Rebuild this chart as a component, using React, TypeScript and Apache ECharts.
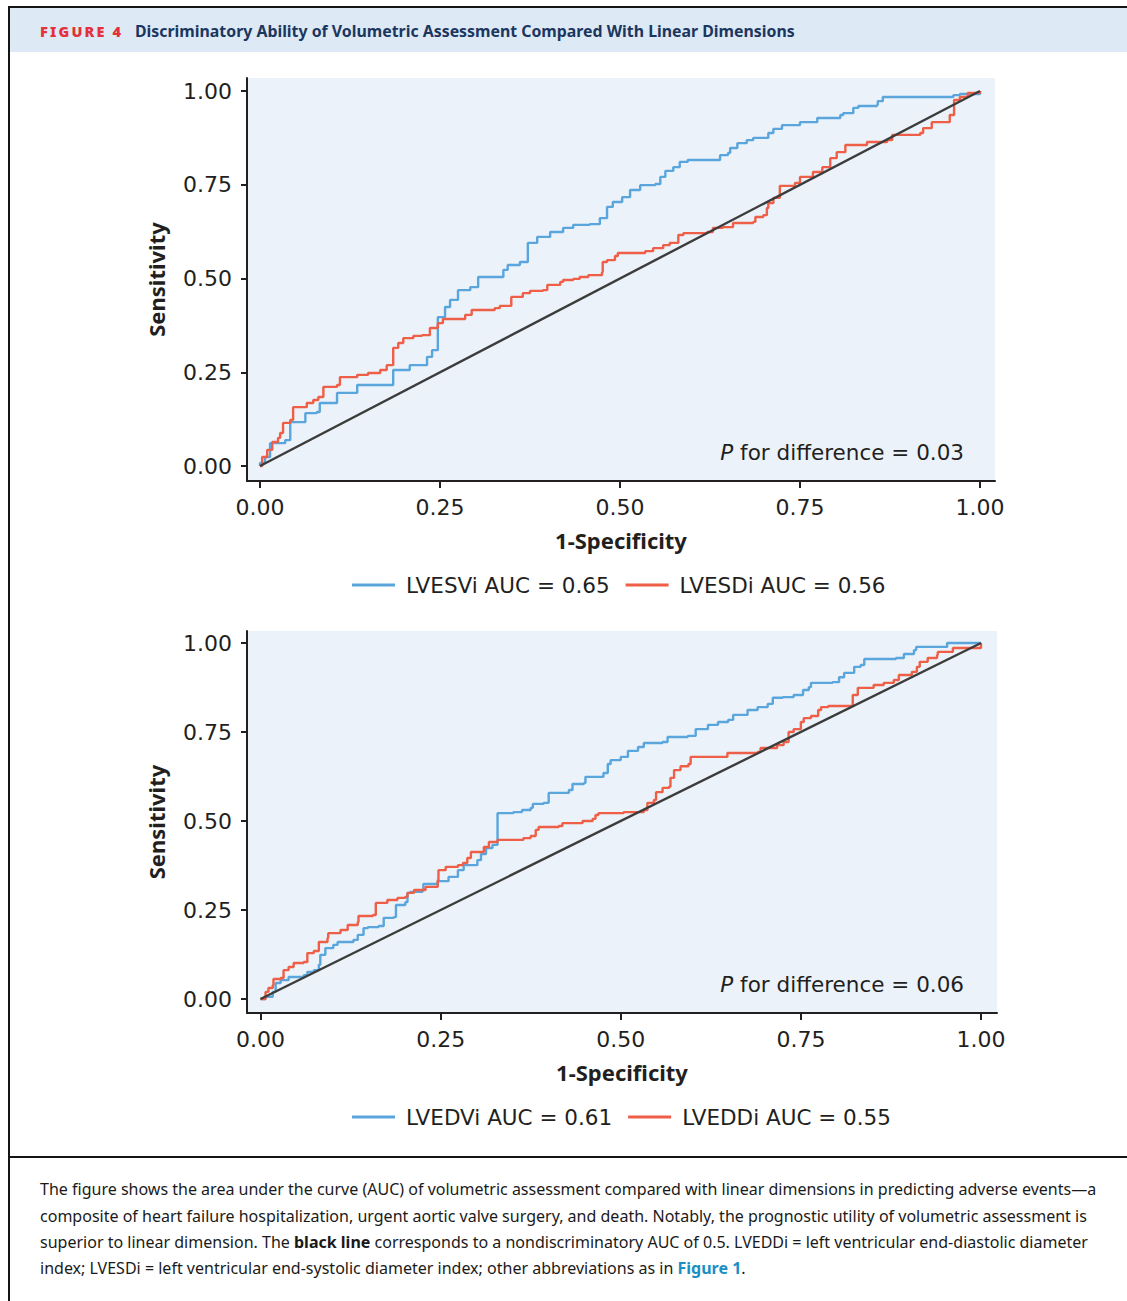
import React, { useEffect, useRef } from "react";
import * as echarts from "echarts";

const FONT = '"Noto Sans", sans-serif';
const WIDE = '"DejaVu Sans", sans-serif';
const INK = "#231f20";
const BLUE = "#5aa6dc";
const RED = "#ef5f47";
const DIAG = "#3c3c3c";

const TICKS = [0, 0.25, 0.5, 0.75, 1];

const topNames = ["LVESVi AUC = 0.65", "LVESDi AUC = 0.56"];
const bottomNames = ["LVEDVi AUC = 0.61", "LVEDDi AUC = 0.55"];
const pTexts = ["0.03", "0.06"];

const diagonal: [number, number][] = [[0, 0], [1, 1]];

const lvesvi: [number, number][] = [
  [0, 0], [0, 0.008], [0.007, 0.024], [0.014, 0.061], [0.035, 0.069], [0.042, 0.117], [0.063, 0.141],
  [0.079, 0.144], [0.083, 0.168], [0.107, 0.195], [0.135, 0.216], [0.185, 0.235], [0.185, 0.256],
  [0.208, 0.269], [0.232, 0.291], [0.239, 0.309], [0.247, 0.315], [0.247, 0.397], [0.257, 0.424],
  [0.264, 0.443], [0.275, 0.469], [0.292, 0.477], [0.303, 0.504], [0.331, 0.504], [0.338, 0.523],
  [0.344, 0.536], [0.361, 0.544], [0.372, 0.544], [0.372, 0.595], [0.385, 0.611], [0.403, 0.624],
  [0.421, 0.635], [0.435, 0.643], [0.458, 0.645], [0.472, 0.661], [0.482, 0.691], [0.49, 0.704],
  [0.503, 0.717], [0.514, 0.736], [0.528, 0.749], [0.549, 0.752], [0.556, 0.771], [0.563, 0.787],
  [0.574, 0.797], [0.583, 0.811], [0.594, 0.816], [0.636, 0.816], [0.639, 0.829], [0.65, 0.835],
  [0.653, 0.848], [0.663, 0.861], [0.676, 0.869], [0.685, 0.875], [0.704, 0.875], [0.706, 0.888],
  [0.713, 0.899], [0.725, 0.909], [0.75, 0.917], [0.774, 0.928], [0.806, 0.936], [0.81, 0.941],
  [0.824, 0.955], [0.831, 0.96], [0.857, 0.963], [0.858, 0.973], [0.865, 0.984], [0.961, 0.984],
  [0.963, 0.989], [0.972, 0.992], [1, 1],
];

const lvesdi: [number, number][] = [
  [0, 0], [0.003, 0.024], [0.01, 0.043], [0.017, 0.064], [0.025, 0.075], [0.028, 0.088], [0.032, 0.115],
  [0.042, 0.123], [0.046, 0.157], [0.065, 0.168], [0.074, 0.176], [0.081, 0.184], [0.088, 0.184],
  [0.088, 0.211], [0.107, 0.216], [0.111, 0.237], [0.135, 0.243], [0.15, 0.248], [0.167, 0.256],
  [0.176, 0.269], [0.185, 0.275], [0.185, 0.315], [0.192, 0.328], [0.199, 0.341], [0.213, 0.347],
  [0.225, 0.349], [0.236, 0.368], [0.247, 0.381], [0.254, 0.392], [0.275, 0.392], [0.285, 0.403],
  [0.294, 0.416], [0.326, 0.421], [0.333, 0.427], [0.344, 0.427], [0.349, 0.451], [0.365, 0.461],
  [0.375, 0.467], [0.393, 0.469], [0.399, 0.483], [0.417, 0.491], [0.421, 0.496], [0.435, 0.499],
  [0.444, 0.504], [0.456, 0.509], [0.475, 0.517], [0.476, 0.544], [0.482, 0.549], [0.493, 0.56],
  [0.497, 0.568], [0.514, 0.568], [0.535, 0.573], [0.546, 0.581], [0.56, 0.589], [0.569, 0.595],
  [0.581, 0.616], [0.588, 0.621], [0.621, 0.624], [0.629, 0.635], [0.643, 0.637], [0.657, 0.648],
  [0.685, 0.651], [0.688, 0.664], [0.699, 0.669], [0.704, 0.688], [0.706, 0.701], [0.713, 0.715],
  [0.722, 0.72], [0.722, 0.747], [0.743, 0.755], [0.75, 0.771], [0.768, 0.784], [0.781, 0.797],
  [0.792, 0.821], [0.801, 0.837], [0.813, 0.856], [0.843, 0.864], [0.871, 0.869], [0.878, 0.883],
  [0.917, 0.888], [0.921, 0.901], [0.933, 0.917], [0.958, 0.936], [0.964, 0.944], [0.964, 0.976],
  [0.972, 0.984], [0.983, 0.995], [1, 1],
];

const lvedvi: [number, number][] = [
  [0, 0], [0.007, 0.006], [0.017, 0.02], [0.021, 0.045], [0.028, 0.053], [0.039, 0.062], [0.06, 0.067],
  [0.065, 0.076], [0.074, 0.081], [0.081, 0.096], [0.083, 0.124], [0.09, 0.143], [0.101, 0.152],
  [0.107, 0.16], [0.129, 0.166], [0.135, 0.18], [0.143, 0.199], [0.149, 0.202], [0.164, 0.205],
  [0.171, 0.228], [0.185, 0.23], [0.188, 0.264], [0.201, 0.272], [0.204, 0.298], [0.208, 0.301],
  [0.225, 0.306], [0.226, 0.323], [0.246, 0.331], [0.261, 0.343], [0.274, 0.362], [0.282, 0.376],
  [0.301, 0.39], [0.306, 0.407], [0.313, 0.424], [0.322, 0.433], [0.329, 0.433], [0.329, 0.522],
  [0.351, 0.525], [0.363, 0.531], [0.375, 0.537], [0.378, 0.548], [0.393, 0.551], [0.4, 0.579],
  [0.428, 0.587], [0.433, 0.604], [0.449, 0.607], [0.451, 0.624], [0.476, 0.635], [0.482, 0.66],
  [0.486, 0.671], [0.5, 0.68], [0.51, 0.697], [0.524, 0.708], [0.532, 0.719], [0.558, 0.722],
  [0.565, 0.736], [0.593, 0.739], [0.604, 0.758], [0.621, 0.77], [0.635, 0.778], [0.649, 0.784],
  [0.656, 0.798], [0.676, 0.812], [0.69, 0.82], [0.704, 0.829], [0.711, 0.846], [0.725, 0.848],
  [0.74, 0.854], [0.753, 0.868], [0.761, 0.876], [0.764, 0.888], [0.794, 0.89], [0.803, 0.904],
  [0.81, 0.916], [0.824, 0.933], [0.833, 0.938], [0.838, 0.955], [0.882, 0.958], [0.893, 0.969],
  [0.907, 0.98], [0.91, 0.989], [0.946, 0.989], [0.953, 1], [1, 1],
];

const lveddi: [number, number][] = [
  [0, 0], [0.003, 0], [0.007, 0.02], [0.011, 0.031], [0.017, 0.039], [0.018, 0.056], [0.028, 0.059],
  [0.032, 0.081], [0.039, 0.09], [0.046, 0.101], [0.06, 0.104], [0.065, 0.129], [0.074, 0.135],
  [0.081, 0.16], [0.093, 0.171], [0.094, 0.185], [0.111, 0.194], [0.121, 0.208], [0.135, 0.216],
  [0.136, 0.233], [0.156, 0.236], [0.16, 0.27], [0.176, 0.278], [0.19, 0.284], [0.201, 0.287],
  [0.204, 0.298], [0.213, 0.306], [0.226, 0.306], [0.229, 0.315], [0.246, 0.334], [0.247, 0.362],
  [0.257, 0.371], [0.274, 0.376], [0.281, 0.382], [0.287, 0.396], [0.292, 0.413], [0.306, 0.413],
  [0.31, 0.427], [0.317, 0.441], [0.329, 0.447], [0.363, 0.447], [0.365, 0.452], [0.375, 0.458],
  [0.382, 0.475], [0.386, 0.483], [0.414, 0.486], [0.419, 0.494], [0.447, 0.5], [0.461, 0.506],
  [0.465, 0.517], [0.469, 0.522], [0.504, 0.525], [0.532, 0.531], [0.537, 0.551], [0.546, 0.559],
  [0.549, 0.581], [0.558, 0.593], [0.567, 0.596], [0.569, 0.621], [0.574, 0.643], [0.583, 0.654],
  [0.594, 0.66], [0.597, 0.68], [0.648, 0.691], [0.69, 0.694], [0.694, 0.705], [0.717, 0.713],
  [0.726, 0.722], [0.733, 0.75], [0.74, 0.758], [0.75, 0.778], [0.754, 0.789], [0.764, 0.795],
  [0.774, 0.812], [0.778, 0.82], [0.788, 0.823], [0.817, 0.823], [0.822, 0.854], [0.829, 0.874],
  [0.851, 0.882], [0.865, 0.888], [0.879, 0.896], [0.886, 0.91], [0.904, 0.919], [0.911, 0.933],
  [0.915, 0.947], [0.926, 0.958], [0.939, 0.966], [0.94, 0.975], [0.961, 0.986], [1, 1],
];

const captionLines = [
  "The figure shows the area under the curve (AUC) of volumetric assessment compared with linear dimensions in predicting adverse events\u2014a",
  "composite of heart failure hospitalization, urgent aortic valve surgery, and death. Notably, the prognostic utility of volumetric assessment is",
  "superior to linear dimension. The {b|black line} corresponds to a nondiscriminatory AUC of 0.5. LVEDDi = left ventricular end-diastolic diameter",
  "index; LVESDi = left ventricular end-systolic diameter index; other abbreviations as in {l|Figure 1}.",
];
const figLabel = "FIGURE 4";
const figTitle = "Discriminatory Ability of Volumetric Assessment Compared With Linear Dimensions";

function measure(text: string, font: string): number {
  const c = document.createElement("canvas").getContext("2d");
  if (!c) return text.length * 8;
  c.font = font;
  return c.measureText(text).width;
}

function axisPair(gridIndex: number, xr: [number, number], yr: [number, number]) {
  const common = {
    type: "value" as const,
    gridIndex,
    splitLine: { show: false },
    axisLine: { show: true, onZero: false, lineStyle: { color: INK, width: 2 } },
    axisTick: { show: true, customValues: TICKS, length: 7, lineStyle: { color: INK, width: 2 } },
    axisLabel: {
      customValues: TICKS,
      formatter: (v: number) => v.toFixed(2),
      fontSize: 22,
      color: INK,
      fontFamily: WIDE,
    },
    nameLocation: "middle" as const,
    nameTextStyle: { fontSize: 22, fontWeight: "bold" as const, color: INK, fontFamily: FONT },
  };
  return {
    x: {
      ...common,
      min: xr[0],
      max: xr[1],
      name: "1-Specificity",
      nameGap: 48,
      axisLabel: { ...common.axisLabel, margin: 15 },
    },
    y: {
      ...common,
      min: yr[0],
      max: yr[1],
      name: "Sensitivity",
      nameGap: 80,
      axisTick: { ...common.axisTick, length: 6 },
      axisLabel: { ...common.axisLabel, margin: 15 },
    },
  };
}

export default function App() {
  const ref = useRef<HTMLDivElement>(null);
  useEffect(() => {
    if (!ref.current) return;
    const chart = echarts.init(ref.current, undefined, { renderer: "svg" });

    const top = axisPair(0, [-13 / 720, 1 + 15 / 720], [-15 / 375, 1 + 13 / 375]);
    const bot = axisPair(1, [-13.5 / 720.5, 1 + 16 / 720.5], [-14 / 356, 1 + 12 / 356]);

    const lineSeries = (name: string, data: [number, number][], color: string, idx: number) => ({
      name,
      type: "line" as const,
      xAxisIndex: idx,
      yAxisIndex: idx,
      data,
      step: "end" as const,
      symbol: "none",
      lineStyle: { color, width: 2.4 },
      itemStyle: { color },
      z: 3,
    });
    const diagSeries = (idx: number) => ({
      name: "diag" + idx,
      type: "line" as const,
      xAxisIndex: idx,
      yAxisIndex: idx,
      data: diagonal,
      symbol: "none",
      lineStyle: { color: DIAG, width: 2.4 },
      z: 4,
    });

    const capSize = (100 * 1057) / measure(captionLines[0], `100px ${FONT}`);
    const titleSize = (100 * 660) / measure(figTitle, `bold 100px ${FONT}`);

    // letter-spaced "FIGURE 4"
    const labelFont = `900 14.5px ${FONT}`;
    const labelChars: any[] = [];
    const totalW = 81;
    const rawW = measure(figLabel, labelFont);
    const spacing = (totalW - rawW) / (figLabel.length - 1);
    let cx = 40;
    for (const ch of figLabel) {
      labelChars.push({
        type: "text",
        x: cx,
        y: 31,
        style: {
          text: ch,
          font: labelFont,
          fill: "#e2323b",
          align: "left",
          verticalAlign: "middle",
        },
      });
      cx += measure(ch, labelFont) + spacing;
    }

    const captionY = [1189, 1215.5, 1242, 1268];
    const captionEls = captionLines.map((t, i) => ({
      type: "text",
      x: 40,
      y: captionY[i],
      style: {
        text: t,
        fontSize: capSize,
        fontFamily: FONT,
        fill: "#1a1a1a",
        align: "left",
        verticalAlign: "middle",
        rich: {
          b: { fontWeight: "bold", fontSize: capSize, fontFamily: FONT, fill: "#1a1a1a", color: "#1a1a1a" },
          l: { fontWeight: "bold", fontSize: capSize, fontFamily: FONT, fill: "#1b8fc4", color: "#1b8fc4" },
        },
      },
    }));

    const pText = (y: number, val: string) => ({
      type: "text",
      x: 964,
      y,
      z: 10,
      style: {
        text: `{i|P} for difference = ${val}`,
        fontSize: 21.5,
        fontFamily: WIDE,
        fill: INK,
        align: "right",
        verticalAlign: "middle",
        rich: { i: { fontStyle: "italic", fontSize: 21.5, fontFamily: WIDE, color: INK, fill: INK } },
      },
    });

    const legendBase = {
      left: 347,
      icon: "rect",
      itemWidth: 43,
      itemHeight: 3,
      itemGap: 16,
      textStyle: { fontSize: 21.5, color: INK, fontFamily: WIDE, padding: [0, 0, 0, 6] },
      selectedMode: false,
    };

    chart.setOption({
      animation: false,
      backgroundColor: "#ffffff",
      textStyle: { fontFamily: FONT },
      grid: [
        { left: 247, top: 78, width: 748, height: 403, show: true, backgroundColor: "#ebf2fa", borderWidth: 0 },
        { left: 247, top: 631, width: 750, height: 382, show: true, backgroundColor: "#ebf2fa", borderWidth: 0 },
      ],
      xAxis: [top.x, bot.x],
      yAxis: [top.y, bot.y],
      legend: [
        { ...legendBase, data: topNames, top: 569 },
        { ...legendBase, data: bottomNames, top: 1101 },
      ],
      series: [
        lineSeries(topNames[0], lvesvi, BLUE, 0),
        lineSeries(topNames[1], lvesdi, RED, 0),
        diagSeries(0),
        lineSeries(bottomNames[0], lvedvi, BLUE, 1),
        lineSeries(bottomNames[1], lveddi, RED, 1),
        diagSeries(1),
      ],
      graphic: [
        { type: "rect", shape: { x: 9, y: 8, width: 1118, height: 44 }, style: { fill: "#dde9f5" }, z: 0 },
        { type: "line", shape: { x1: 8, y1: 7, x2: 1127, y2: 7 }, style: { stroke: "#151515", lineWidth: 2 } },
        { type: "line", shape: { x1: 9, y1: 6, x2: 9, y2: 1301 }, style: { stroke: "#151515", lineWidth: 2 } },
        { type: "line", shape: { x1: 9, y1: 1157, x2: 1127, y2: 1157 }, style: { stroke: "#151515", lineWidth: 2 } },
        ...labelChars,
        {
          type: "text",
          x: 135,
          y: 31,
          style: {
            text: figTitle,
            font: `bold ${titleSize}px ${FONT}`,
            fill: "#1b365f",
            align: "left",
            verticalAlign: "middle",
          },
        },
        pText(452, pTexts[0]),
        pText(984, pTexts[1]),
        ...captionEls,
      ],
    });
    return () => chart.dispose();
  }, []);
  return (
    <div
      ref={ref}
      style={{ position: "absolute", left: 0, top: 0, width: 1127, height: 1301, background: "#fff" }}
    />
  );
}
